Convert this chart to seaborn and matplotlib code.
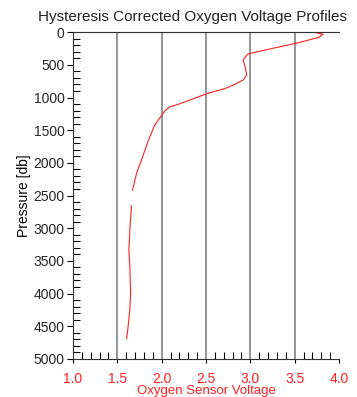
import numpy as np
import pandas as pd
import matplotlib
matplotlib.use("Agg")
import matplotlib.pyplot as plt
from matplotlib.ticker import MultipleLocator
import seaborn as sns

# Data (voltage vs pressure), two segments (gap near 2500 db)
voltage_a = [3.71, 3.82, 3.77, 3.52, 3.26, 3.01, 2.97, 2.92, 2.94, 2.96, 2.92,
             2.81, 2.72, 2.51, 2.21, 2.09, 2.04, 2.00, 1.92, 1.85, 1.77, 1.72, 1.67]
pressure_a = [0, 31, 81, 169, 245, 322, 337, 424, 526, 654, 731,
              808, 860, 941, 1094, 1145, 1200, 1273, 1427, 1657, 1964, 2143, 2424]
voltage_b = [1.66, 1.64, 1.64, 1.63, 1.64, 1.65, 1.64, 1.62, 1.605]
pressure_b = [2654, 3038, 3085, 3344, 3544, 4004, 4265, 4520, 4695]

x_ticks = [1.0, 1.5, 2.0, 2.5, 3.0, 3.5, 4.0]
y_ticks = [0, 500, 1000, 1500, 2000, 2500, 3000, 3500, 4000, 4500, 5000]

df = pd.DataFrame({
    "v": voltage_a + voltage_b,
    "p": pressure_a + pressure_b,
    "seg": [0] * len(voltage_a) + [1] * len(voltage_b),
})

sns.set_style("white")
plt.rcParams["font.family"] = ["Liberation Sans", "DejaVu Sans"]

fig = plt.figure(figsize=(3.57, 3.97), dpi=100)
ax = fig.add_axes([0.2045, 0.096, 0.745, 0.823])

for xv in x_ticks[1:-1]:
    ax.axvline(xv, color="#8c8c8c", lw=1.3, zorder=0)

sns.lineplot(data=df, x="v", y="p", units="seg", estimator=None, sort=False,
             orient="y", color="#ff2020", lw=0.8, ax=ax, legend=False)

ax.set_xlim(1.0, 4.0)
ax.set_ylim(5000, 0)
ax.set_xticks(x_ticks)
ax.set_xticklabels([f"{t:.1f}" for t in x_ticks], color="#ff2020", fontsize=10)
ax.set_yticks(y_ticks)
ax.set_yticklabels([str(t) for t in y_ticks], fontsize=10)
ax.xaxis.set_minor_locator(MultipleLocator(0.1))
ax.yaxis.set_minor_locator(MultipleLocator(100))
ax.tick_params(bottom=True, left=True, which="both")
ax.tick_params(axis="x", which="major", direction="out", length=3, width=0.8, color="black", pad=6.5)
ax.tick_params(axis="x", which="minor", direction="in", length=5, width=0.8, color="black")
ax.tick_params(axis="y", which="major", direction="out", length=4, width=0.8, color="black", pad=2)
ax.tick_params(axis="y", which="minor", direction="in", length=5, width=0.8, color="black")
ax.set_xlabel("Oxygen Sensor Voltage", color="#ff2020", fontsize=9.5, labelpad=-1)
ax.set_ylabel("Pressure [db]", color="black", fontsize=10, labelpad=2)

for s in ["left", "bottom", "top"]:
    ax.spines[s].set_visible(True)
    ax.spines[s].set_color("#333333")
    ax.spines[s].set_linewidth(0.8)
ax.spines["right"].set_visible(False)

fig.text(0.54, 0.94, "Hysteresis Corrected Oxygen Voltage Profiles", ha="center",
         va="bottom", fontsize=11, color="#222222")

fig.savefig("out.png", dpi=100)
